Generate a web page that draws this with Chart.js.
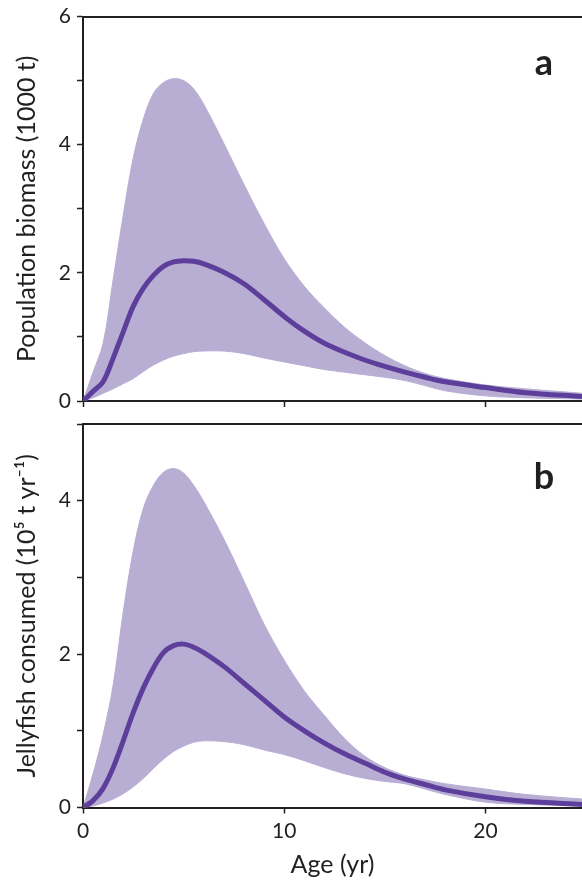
<!DOCTYPE html>
<html>
<head>
<meta charset="utf-8">
<title>Biomass and jellyfish consumed by age</title>
<style>
  html, body { margin: 0; padding: 0; background: #fff; }
  #wrap { position: relative; width: 582px; height: 881px; }
  canvas { position: absolute; left: 0; }
  #panelA { top: 0; }
  #panelB { top: 415px; }
</style>
<script src="https://cdn.jsdelivr.net/npm/chart.js@4.4.1/dist/chart.umd.min.js"></script>
</head>
<body>
<div id="wrap">
  <canvas id="panelA" width="582" height="420"></canvas>
  <canvas id="panelB" width="582" height="466"></canvas>
</div>
<script>
// ======= Data =======
const age = [0, 0.5, 1, 1.5, 2, 2.5, 3, 3.5, 4, 4.5, 5, 5.5, 6, 7, 8, 9, 10,
             11, 12, 13, 14, 15, 16, 17, 18, 20, 22, 24.8];

// panel a: population biomass (1000 t)
const biomassMid  = [0, 0.15, 0.30, 0.67, 1.08, 1.48, 1.76, 1.96, 2.10, 2.17, 2.19, 2.18, 2.14, 2.01, 1.83, 1.58, 1.32,
                     1.09, 0.90, 0.76, 0.64, 0.54, 0.45, 0.37, 0.30, 0.21, 0.13, 0.07];
const biomassLow  = [0, 0.05, 0.12, 0.19, 0.27, 0.35, 0.46, 0.56, 0.64, 0.70, 0.74, 0.77, 0.78, 0.78, 0.74, 0.67, 0.61,
                     0.55, 0.49, 0.45, 0.41, 0.37, 0.32, 0.24, 0.16, 0.08, 0.05, 0.03];
const biomassHigh = [0, 0.45, 0.90, 1.90, 2.90, 3.80, 4.40, 4.80, 4.97, 5.03, 5.00, 4.87, 4.63, 4.02, 3.38, 2.77, 2.22,
                     1.79, 1.45, 1.15, 0.91, 0.71, 0.55, 0.43, 0.35, 0.25, 0.19, 0.12];

// panel b: jellyfish consumed (10^5 t / yr)
const eatenMid  = [0, 0.09, 0.25, 0.52, 0.87, 1.24, 1.56, 1.82, 2.02, 2.11, 2.13, 2.09, 2.02, 1.84, 1.62, 1.40, 1.18,
                   1.00, 0.84, 0.70, 0.58, 0.46, 0.37, 0.30, 0.23, 0.14, 0.08, 0.04];
const eatenLow  = [0, 0.02, 0.06, 0.11, 0.18, 0.27, 0.38, 0.51, 0.63, 0.73, 0.80, 0.85, 0.87, 0.86, 0.82, 0.75, 0.69,
                   0.61, 0.52, 0.44, 0.38, 0.34, 0.31, 0.24, 0.17, 0.07, 0.04, 0.02];
const eatenHigh = [0, 0.44, 0.95, 1.60, 2.55, 3.35, 3.90, 4.20, 4.37, 4.42, 4.36, 4.20, 3.99, 3.50, 2.95, 2.39, 1.92,
                   1.52, 1.20, 0.90, 0.67, 0.52, 0.42, 0.36, 0.31, 0.24, 0.17, 0.11];

const xTicks = [0, 10, 20];

// ======= Style =======
const INK  = "#231f20";
const BAND = "#b8aed4";
const LINE = "#5d3f9b";
const FONT = "Lato, 'Open Sans', sans-serif";

const toPts = (ys) => age.map((x, i) => ({ x, y: ys[i] }));

// big bold panel letter in the top right corner
const panelLetter = {
  id: "panelLetter",
  afterDraw(chart, args, opts) {
    const { ctx, chartArea } = chart;
    ctx.save();
    ctx.font = `bold 36px ${FONT}`;
    ctx.fillStyle = INK;
    ctx.textAlign = "center";
    ctx.fillText(opts.text, chartArea.right - 38, chartArea.top + opts.dy);
    ctx.restore();
  }
};

function buildPanel(id, o) {
  const tickFont  = { family: FONT, size: 21 };
  const titleFont = { family: FONT, size: 25 };

  return new Chart(document.getElementById(id), {
    type: "line",
    data: {
      datasets: [
        { data: toPts(o.mid), borderColor: LINE, borderWidth: 5, pointRadius: 0,
          fill: false, tension: 0.35 },
        { data: toPts(o.low), borderColor: BAND, borderWidth: 1, pointRadius: 0,
          fill: false, tension: 0.35 },
        { data: toPts(o.high), borderColor: BAND, borderWidth: 1, pointRadius: 0,
          backgroundColor: BAND, fill: 1, tension: 0.35 }
      ]
    },
    options: {
      responsive: false,
      animation: false,
      layout: { padding: { top: o.top, right: 0, bottom: 0, left: 0 } },
      plugins: {
        legend: { display: false },
        tooltip: { enabled: false },
        panelLetter: { text: o.letter, dy: o.letterDy }
      },
      scales: {
        x: {
          type: "linear", min: 0, max: 24.8,
          border: { color: INK, width: 2 },
          grid: { drawOnChartArea: false, tickLength: 6, tickColor: INK, tickWidth: 1.5 },
          afterBuildTicks: (s) => { s.ticks = xTicks.map(v => ({ value: v })); },
          ticks: { display: o.showX, padding: 5, color: INK, font: tickFont, maxRotation: 0 },
          title: { display: o.showX, text: "Age (yr)", color: INK, font: titleFont,
                   padding: { top: 0, bottom: 1 } },
          afterFit: (s) => { s.height = o.xHeight; s.paddingLeft = 0; s.paddingRight = 0; }
        },
        xTop: {
          type: "linear", position: "top", min: 0, max: 24.8,
          border: { color: INK, width: 2 },
          grid: { display: false },
          ticks: { display: false },
          afterFit: (s) => { s.height = 0; }
        },
        y: {
          min: 0, max: o.yMax,
          border: { color: INK, width: 2 },
          grid: { drawOnChartArea: false, tickLength: 6, tickColor: INK, tickWidth: 1.5 },
          ticks: { stepSize: 1, padding: 6, color: INK, font: tickFont,
                   callback: (v) => (v % 2 === 0 ? v : "") },
          title: { display: true, text: o.yTitle, color: INK, font: titleFont,
                   padding: { top: 12, bottom: 0 } },
          afterFit: (s) => { s.width = 83; s.paddingTop = 0; s.paddingBottom = 0; }
        }
      }
    },
    plugins: [panelLetter]
  });
}

// ======= Panels =======
buildPanel("panelA", {
  mid: biomassMid, low: biomassLow, high: biomassHigh,
  yMax: 6, yTitle: "Population biomass (1000 t)",
  top: 16.5, xHeight: 19, showX: false,
  letter: "a", letterDy: 58.5
});

buildPanel("panelB", {
  mid: eatenMid, low: eatenLow, high: eatenHigh,
  yMax: 5, yTitle: "Jellyfish consumed (10\u2075 t yr\u207B\u00B9)",
  top: 9, xHeight: 73.5, showX: true,
  letter: "b", letterDy: 65
});
</script>
</body>
</html>
